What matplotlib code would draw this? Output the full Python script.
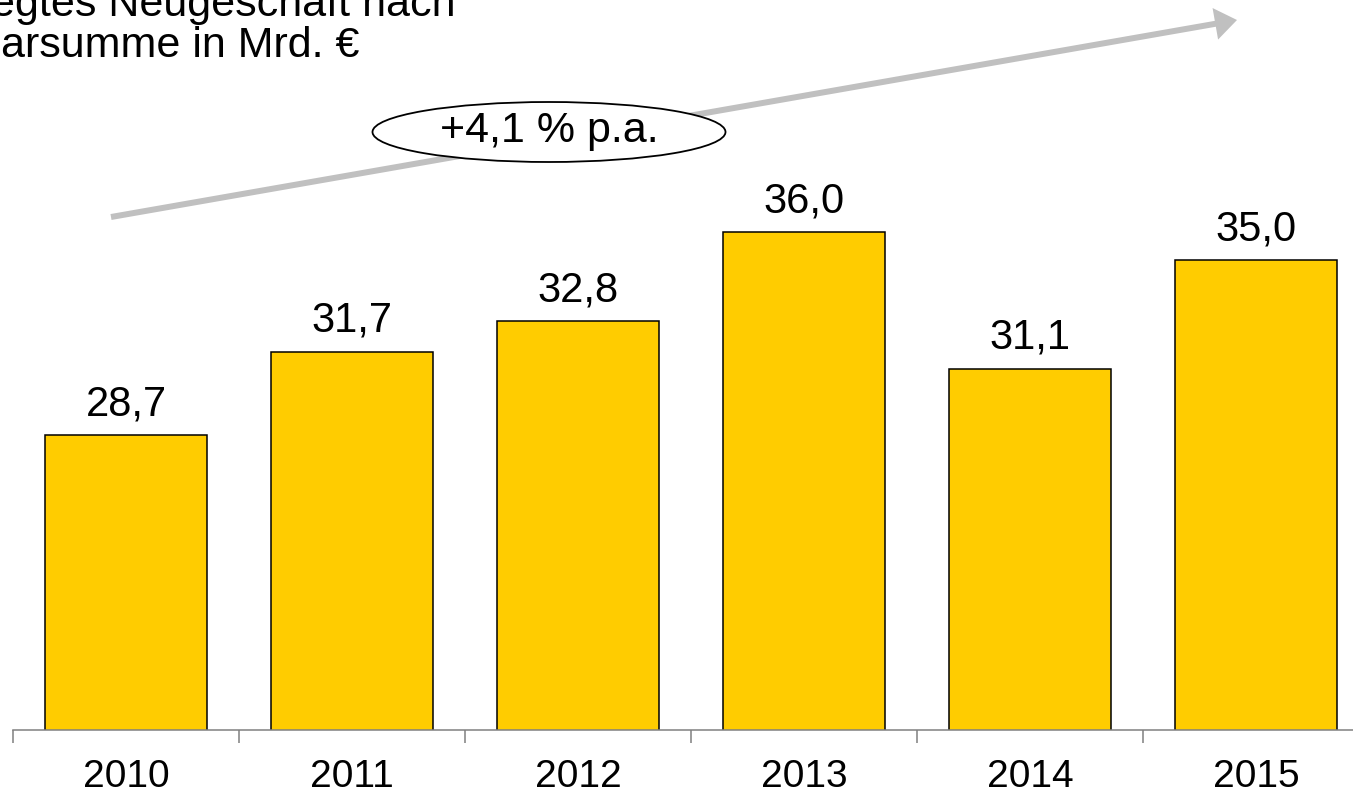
import matplotlib
matplotlib.use("Agg")
import matplotlib.pyplot as plt
from matplotlib.patches import FancyArrow, Ellipse

plt.rcParams['font.family'] = ['Liberation Sans', 'DejaVu Sans']

# Daten
jahre = ['2010', '2011', '2012', '2013', '2014', '2015']
werte = [28.7, 31.7, 32.8, 36.0, 31.1, 35.0]
labels = ['28,7', '31,7', '32,8', '36,0', '31,1', '35,0']
titel_zeile1 = 'egtes Neugeschäft nach'
titel_zeile2 = 'arsumme in Mrd. €'
wachstum = '+4,1 % p.a.'

W, H = 1353, 792
fig = plt.figure(figsize=(W / 100, H / 100), dpi=100)

# Hauptachse (Balken)
ax = fig.add_axes([13 / W, 62 / H, 1356 / W, 730 / H])
x = range(len(jahre))
ax.bar(x, werte, width=0.72, color='#FFCC00', edgecolor='black', linewidth=1.1, zorder=2)
for xi, v, t in zip(x, werte, labels):
    ax.annotate(t, (xi, v), xytext=(0, 8), textcoords='offset points',
                ha='center', va='bottom', fontsize=30)

ax.set_xlim(-0.5, 5.5)
ax.set_ylim(18.1, 44.36)
ax.set_xticks(list(x))
ax.set_xticklabels(jahre, fontsize=28)
ax.set_xticks([i - 0.5 for i in range(len(jahre) + 1)], minor=True)
ax.tick_params(axis='x', which='major', length=0, pad=21)
ax.tick_params(axis='x', which='minor', length=9, color='#808080', width=1.1)
ax.set_yticks([])
for s in ['top', 'right', 'left']:
    ax.spines[s].set_visible(False)
ax.spines['bottom'].set_color('#808080')
ax.spines['bottom'].set_linewidth(1.1)
ax.patch.set_alpha(0)

# Overlay in Pixelkoordinaten fuer Pfeil, Ellipse und Titel
ov = fig.add_axes([0, 0, 1, 1])
ov.set_xlim(0, W)
ov.set_ylim(H, 0)
ov.axis('off')
ov.patch.set_alpha(0)

x0, y0, x1, y1 = 111, 217, 1237, 20
ov.add_patch(FancyArrow(x0, y0, x1 - x0, y1 - y0, width=6, head_width=32,
                        head_length=22, length_includes_head=True,
                        color='#C0C0C0', linewidth=0, zorder=1))
ov.add_patch(Ellipse((549, 132), 353, 60, facecolor='white', edgecolor='black',
                     linewidth=1.3, zorder=2))
ov.text(549, 131, wachstum, ha='center', va='center', fontsize=31, zorder=3)

ov.text(-9, 16, titel_zeile1, ha='left', va='baseline', fontsize=31)
ov.text(1, 57, titel_zeile2, ha='left', va='baseline', fontsize=31)

fig.savefig('out.png', dpi=100)
